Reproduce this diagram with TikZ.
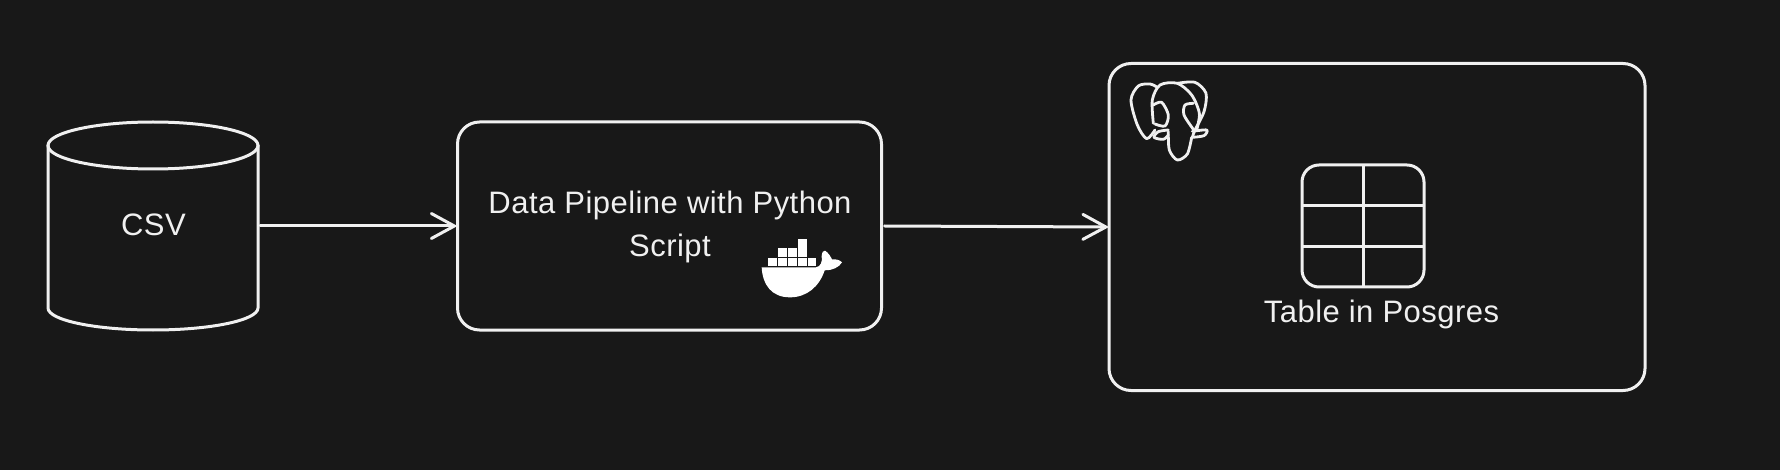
\documentclass[tikz,border=0pt]{standalone}
\usepackage{fontspec}
\setmainfont[LetterSpace=1.5]{Liberation Sans}
\usetikzlibrary{calc, arrows.meta}
\definecolor{bgdark}{HTML}{181818}
\definecolor{chalk}{HTML}{F0F0F0}
\tikzstyle{outline} = [draw = chalk, line width = 3pt, inner sep = 0pt, outer sep = 0pt]
\tikzstyle{caption} = [text = chalk, font = \fontsize{31}{43}\selectfont, align = center, inner sep = 0pt]
\tikzstyle{flow} = [color = chalk, line width = 3pt, line cap = round, -{Straight Barb[length=23pt, width=25pt, line cap=round]}]
\tikzstyle{sketch} = [chalk, line width = 2.8pt, line cap = round, line join = round]
\begin{document}
\begin{tikzpicture}[x=1pt, y=-1pt]

		% Background
		\fill[bgdark] (0,0) rectangle (1780,470);
		\useasboundingbox (0,0) rectangle (1780,470);

		% Nodes
		\node (csv) [inner sep=0pt, outer sep=0pt, minimum width=210pt, minimum height=208pt] at (153,226) {};
		\node (csvtext) [caption] at (153.5,225) {CSV};
		\node (pipeline) [outline, rectangle, rounded corners=22pt, minimum width=424pt, minimum height=208pt] at (669.5,226) {};
		\node (pipelinetext) [caption] at (670,226.5) {Data Pipeline with Python\\Script};
		\node (postgres) [outline, rectangle, rounded corners=22pt, minimum width=536pt, minimum height=327pt] at (1377,227) {};
		\node (tbl) [outline, rectangle, rounded corners=17pt, minimum width=122pt, minimum height=122pt] at (1363,226) {};
		\node (tbltext) [caption] at (1381.5,314) {Table in Posgres};

		% Cylinder
		\draw[outline] ($(csv.north west)+(0,23)$) -- ($(csv.south west)+(0,-22)$) arc[start angle=180, end angle=360, x radius=105pt, y radius=22pt] -- ($(csv.north east)+(0,23)$);
		\draw[outline] ($(csv.north)+(0,23.5)$) ellipse [x radius=105pt, y radius=23.5pt];

		% Table cells
		\draw[outline] (tbl.north) -- (tbl.south);
		\draw[outline] ($(tbl.north west)!0.336!(tbl.south west)$) -- ($(tbl.north east)!0.336!(tbl.south east)$);
		\draw[outline] ($(tbl.north west)!0.672!(tbl.south west)$) -- ($(tbl.north east)!0.672!(tbl.south east)$);

		% Arrows
		\draw[flow] ([xshift=2pt]csv.east) -- (pipeline.west);
		\draw[flow] ([xshift=3pt]pipeline.east) -- (postgres.west);

		% Whale
		\begin{scope}[shift={(740,220)}, scale=1/3]
			\fill[white] (65,142) -- (228,142) .. controls (242,140) and (248,125) .. (245,108) .. controls (246,97) and (250,90) .. (255,92) .. controls (265,98) and (272,110) .. (276,118) .. controls (288,117) and (300,120) .. (306,127) .. controls (298,142) and (275,152) .. (254,151) .. controls (238,200) and (200,232) .. (150,232) .. controls (95,232) and (68,195) .. (65,142) -- cycle;
			\foreach \bx/\by in {85/113,115/113,144/113,174/113,203/113,115/85,144/85,174/85,174/58}
			{
				\fill[white] (\bx,\by) rectangle ++(26,25);
			}
		\end{scope}

		% Elephant
		\begin{scope}[shift={(1100,50)}, scale=1/3]
			\draw[sketch, smooth] plot coordinates {(165,240) (140,266) (112,225) (93,150) (115,108) (150,102) (172,112)};
			\draw[sketch, smooth] plot coordinates {(160,220) (157,150) (180,105) (232,100) (275,135) (298,190) (290,240)};
			\draw[sketch, smooth] plot coordinates {(232,100) (285,97) (318,130) (312,185) (285,240) (277,262)};
			\draw[sketch, smooth] plot coordinates {(205,245) (208,300) (232,330) (262,312) (275,262)};
			\draw[sketch, smooth] plot coordinates {(160,165) (185,157) (205,195) (195,228) (165,222)};
			\draw[sketch, smooth] plot coordinates {(280,160) (255,165) (252,195) (280,238)};
			\draw[sketch, smooth] plot coordinates {(205,240) (175,245) (162,262) (190,268) (205,255)};
			\draw[sketch, smooth] plot coordinates {(277,244) (320,240) (312,257) (277,262)};
		\end{scope}
	\end{tikzpicture}
\end{document}
